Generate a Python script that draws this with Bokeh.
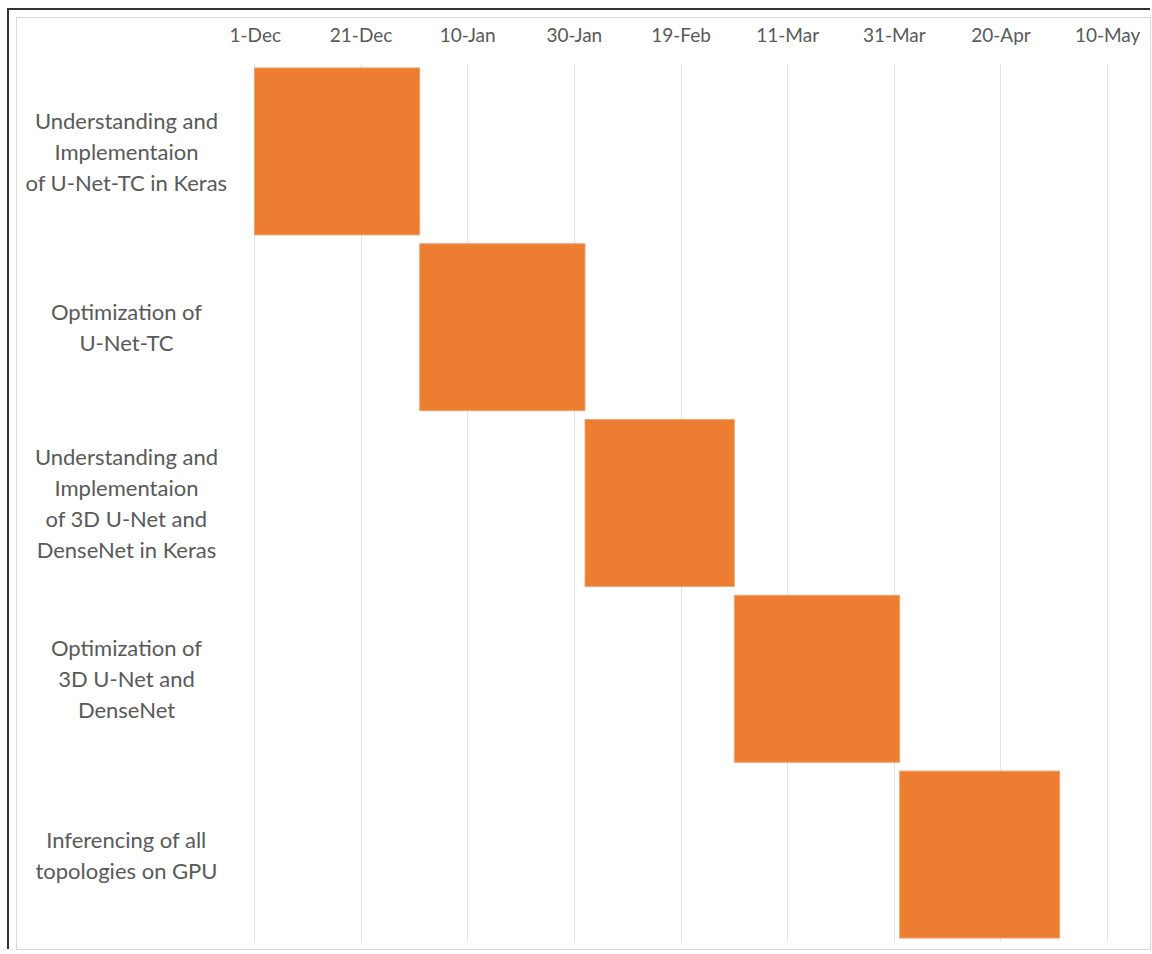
from datetime import datetime, timedelta
from bokeh.plotting import figure
from bokeh.models import ColumnDataSource, FixedTicker
from bokeh.core.properties import value
from bokeh.layouts import row, column
from bokeh.embed import file_html
from bokeh.resources import INLINE

# ---- data ----
tasks = [
    "Understanding and\nImplementaion\nof U-Net-TC in Keras",
    "Optimization of\nU-Net-TC",
    "Understanding and\nImplementaion\nof 3D U-Net and\nDenseNet in Keras",
    "Optimization of\n3D U-Net and\nDenseNet",
    "Inferencing of all\ntopologies on GPU",
]
start_dates = ["2018-12-01", "2019-01-01", "2019-02-01", "2019-03-01", "2019-04-01"]
end_dates = ["2019-01-01", "2019-02-01", "2019-03-01", "2019-04-01", "2019-05-01"]
tick_dates = ["2018-12-01", "2018-12-21", "2019-01-10", "2019-01-30", "2019-02-19",
              "2019-03-11", "2019-03-31", "2019-04-20", "2019-05-10"]
tick_labels = ["1-Dec", "21-Dec", "10-Jan", "30-Jan", "19-Feb",
               "11-Mar", "31-Mar", "20-Apr", "10-May"]

def to_dt(s):
    return datetime.strptime(s, "%Y-%m-%d")

def to_ms(s):
    return int((to_dt(s) - datetime(1970, 1, 1)).total_seconds() * 1000)

src = ColumnDataSource(dict(
    task=tasks,
    start=[to_dt(s) for s in start_dates],
    end=[to_dt(s) for s in end_dates],
))

FONT = "Lato"
GREY = "#595959"
pad = timedelta(hours=4)
H = 931
LEFT_W = 212
GAP = 24

y_range_factors = list(reversed(tasks))

# ---- main Gantt figure ----
p = figure(
    width=1133 - LEFT_W, height=H,
    y_range=y_range_factors,
    x_range=(to_dt(tick_dates[0]) - pad, to_dt(tick_dates[-1]) + pad),
    x_axis_type="datetime", x_axis_location="above",
    output_backend="svg", toolbar_location=None,
    min_border_left=GAP, min_border_right=42, min_border_top=45, min_border_bottom=7,
)
p.hbar(y="task", left="start", right="end", height=0.95, source=src,
       fill_color="#ED7D31", line_color="#F4A46E", line_width=1)

ticks_ms = [to_ms(s) for s in tick_dates]
p.xaxis.ticker = FixedTicker(ticks=ticks_ms)
p.xaxis.major_label_overrides = {t: l for t, l in zip(ticks_ms, tick_labels)}
p.xaxis.axis_line_color = None
p.xaxis.major_tick_line_color = None
p.xaxis.minor_tick_line_color = None
p.xaxis.major_label_text_font = FONT
p.xaxis.major_label_text_font_size = "19px"
p.xaxis.major_label_text_color = GREY
p.xaxis.major_label_standoff = 12
p.yaxis.visible = False

p.xgrid.grid_line_color = "#E3E3E3"
p.xgrid.grid_line_width = 1
p.ygrid.grid_line_color = None
p.outline_line_color = None
p.background_fill_color = "white"
p.border_fill_color = "white"

# ---- category label panel, sharing the y range ----
lab = figure(
    width=LEFT_W, height=H, y_range=p.y_range, x_range=(0, 1),
    output_backend="svg", toolbar_location=None,
    min_border_left=0, min_border_right=0, min_border_top=45, min_border_bottom=7,
)
lab.text(x=0.514, y="task", text="task", source=src,
         text_font=value(FONT), text_font_size="22px", text_color=GREY,
         text_align="center", text_baseline="middle", text_line_height=1.15)
lab.xaxis.visible = False
lab.yaxis.visible = False
lab.xgrid.grid_line_color = None
lab.ygrid.grid_line_color = None
lab.outline_line_color = None
lab.background_fill_color = "white"
lab.border_fill_color = "white"

inner = row(lab, p, styles={"outline": "1px solid #D9D9D9"})

root = column(inner, styles={"border-left": "2px solid #333333", "border-top": "2px solid #333333",
                             "padding-left": "8px", "padding-top": "8px",
                             "margin-left": "7px", "margin-top": "8px"})

open("out.html", "w").write(file_html(root, INLINE))
